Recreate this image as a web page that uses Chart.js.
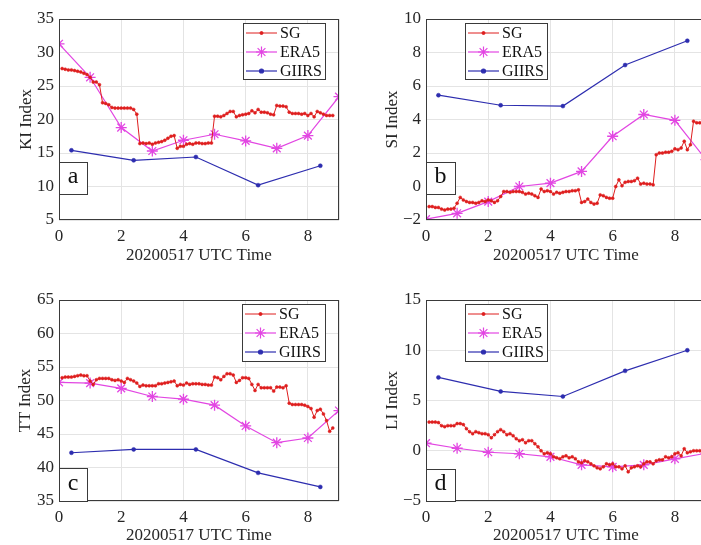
<!doctype html>
<html lang="en">
  <head>
    <meta charset="utf-8">
    <title>SG / ERA5 / GIIRS indices</title>
    <style>
      * { margin: 0; padding: 0; }
      body { width: 701px; height: 545px; overflow: hidden; background: #fff; position: relative; }
      .panel { position: absolute; }
    </style>
  </head>
  <body>
    <div class="panel" style="left:0;top:0;width:350px;height:272px"><canvas id="chartA"></canvas></div>
    <div class="panel" style="left:350px;top:0;width:380px;height:272px"><canvas id="chartB"></canvas></div>
    <div class="panel" style="left:0;top:272px;width:350px;height:273px"><canvas id="chartC"></canvas></div>
    <div class="panel" style="left:350px;top:272px;width:380px;height:273px"><canvas id="chartD"></canvas></div>

    <script src="https://cdn.jsdelivr.net/npm/chart.js/dist/chart.umd.min.js"></script>
    <script>
    // ---- data ----
    const sgTime = [
      0.1, 0.2, 0.3, 0.4, 0.5, 0.6, 0.7, 0.8, 0.9,
      1.0, 1.1, 1.2, 1.3, 1.4, 1.5, 1.6, 1.7, 1.8, 1.9,
      2.0, 2.1, 2.2, 2.3, 2.4, 2.5, 2.6, 2.7, 2.8, 2.9,
      3.0, 3.1, 3.2, 3.3, 3.4, 3.5, 3.6, 3.7, 3.8, 3.9,
      4.0, 4.1, 4.2, 4.3, 4.4, 4.5, 4.6, 4.7, 4.8, 4.9,
      5.0, 5.1, 5.2, 5.3, 5.4, 5.5, 5.6, 5.7, 5.8, 5.9,
      6.0, 6.1, 6.2, 6.3, 6.4, 6.5, 6.6, 6.7, 6.8, 6.9,
      7.0, 7.1, 7.2, 7.3, 7.4, 7.5, 7.6, 7.7, 7.8, 7.9,
      8.0, 8.1, 8.2, 8.3, 8.4, 8.5, 8.6, 8.7, 8.8
    ];
    const era5Time = [0, 1, 2, 3, 4, 5, 6, 7, 8, 9];
    const giirsTime = [0.4, 2.4, 4.4, 6.4, 8.4];

    const kiSG = [
      27.6, 27.5, 27.4, 27.4, 27.3, 27.2, 27.1, 26.9, 26.7,
      26.3, 25.6, 25.6, 25.2, 22.5, 22.4, 22.2, 21.8, 21.7, 21.7,
      21.7, 21.7, 21.7, 21.7, 21.5, 20.8, 16.4, 16.5, 16.4, 16.5,
      16.3, 16.5, 16.6, 16.7, 16.9, 17.2, 17.5, 17.6, 15.7, 16.0,
      16.0, 16.3, 16.4, 16.3, 16.5, 16.5, 16.4, 16.4, 16.5, 16.5,
      20.5, 20.5, 20.4, 20.6, 20.9, 21.2, 21.2, 20.4, 20.6, 20.7,
      20.8, 20.9, 21.3, 21.0, 21.5, 21.1, 21.1, 21.0, 20.8, 20.7,
      22.1, 22.0, 22.0, 21.9, 21.1, 20.9, 20.9, 20.9, 20.8, 20.9,
      20.6, 20.9, 20.4, 21.2, 21.0, 20.8, 20.6, 20.6, 20.6
    ];
    const kiERA5 = [31.3, 26.3, 18.8, 15.3, 16.9, 17.8, 16.8, 15.7, 17.6, 23.4];
    const kiGIIRS = [15.4, 13.9, 14.4, 10.2, 13.1];

    const siSG = [
      -1.2, -1.2, -1.25, -1.25, -1.35, -1.4, -1.35, -1.35, -1.3,
      -1.0, -0.65, -0.8, -0.9, -0.95, -0.95, -1.0, -0.95, -0.85, -0.9,
      -0.8, -0.85, -0.95, -0.85, -0.6, -0.3, -0.3, -0.35, -0.3, -0.3,
      -0.3, -0.35, -0.45, -0.4, -0.45, -0.55, -0.65, -0.15, -0.3, -0.25,
      -0.3, -0.45, -0.35, -0.4, -0.35, -0.3, -0.3, -0.25, -0.25, -0.2,
      -0.95, -0.9, -0.75, -0.95, -1.05, -1.0, -0.5, -0.55, -0.65, -0.7,
      -0.7, 0.0, 0.4, 0.05, 0.25, 0.3, 0.3, 0.35, 0.5, 0.15,
      0.2, 0.15, 0.15, 0.1, 1.9, 2.0, 2.0, 2.05, 2.05, 2.1,
      2.25, 2.2, 2.3, 2.7, 2.2, 2.5, 3.9, 3.8, 3.8
    ];
    const siERA5 = [-1.95, -1.6, -0.9, 0.0, 0.2, 0.9, 3.0, 4.3, 3.95, 1.6];
    const siGIIRS = [5.45, 4.85, 4.8, 7.25, 8.7];

    const ttSG = [
      53.4, 53.5, 53.5, 53.5, 53.6, 53.7, 53.8, 53.7, 53.7,
      52.9, 52.4, 53.1, 53.3, 53.3, 53.3, 53.3, 53.1, 53.0, 53.1,
      52.9, 52.7, 53.3, 53.1, 52.9, 52.6, 52.1, 52.3, 52.2, 52.2,
      52.2, 52.2, 52.5, 52.5, 52.6, 52.7, 52.8, 52.9, 52.2, 52.4,
      52.3, 52.6, 52.4, 52.5, 52.5, 52.5, 52.4, 52.4, 52.3, 52.3,
      53.5, 53.4, 53.1, 53.6, 54.0, 54.0, 53.8, 52.7, 53.0, 53.4,
      53.4, 53.3, 52.4, 51.5, 52.4, 51.9, 51.9, 51.9, 51.9, 51.4,
      52.0, 52.0, 51.9, 52.2, 49.6, 49.4, 49.4, 49.4, 49.4, 49.3,
      49.1, 48.8, 47.5, 48.5, 48.7, 48.0, 47.0, 45.4, 45.9
    ];
    const ttERA5 = [52.7, 52.6, 51.8, 50.6, 50.2, 49.3, 46.2, 43.7, 44.4, 48.5];
    const ttGIIRS = [42.2, 42.7, 42.7, 39.2, 37.1];

    const liSG = [
      2.85, 2.85, 2.85, 2.8, 2.5, 2.4, 2.5, 2.5, 2.5,
      2.7, 2.7, 2.6, 2.2, 1.9, 1.7, 1.9, 1.8, 1.7, 1.7,
      1.6, 1.3, 1.6, 1.9, 2.1, 1.9, 1.6, 1.7, 1.5, 1.2,
      1.0, 1.1, 0.8, 1.0, 1.0, 0.7, 0.4, 0.0, -0.3, -0.2,
      -0.3, -0.6, -0.7, -0.8, -0.6, -0.5, -0.7, -0.6, -0.8, -1.1,
      -1.2, -1.0, -1.1, -1.3, -1.5, -1.7, -1.8, -1.6, -1.3, -1.4,
      -1.3, -1.6, -1.6, -1.8, -1.5, -2.1, -1.7, -1.6, -1.5, -1.6,
      -1.3, -1.1, -1.1, -1.3, -1.0, -0.9, -0.9, -0.6, -0.7, -0.6,
      -0.3, -0.2, -0.5, 0.2, -0.2, -0.1, 0.0, 0.0, 0.0
    ];
    const liERA5 = [0.75, 0.25, -0.15, -0.3, -0.6, -1.4, -1.6, -1.4, -0.8, -0.25];
    const liGIIRS = [7.3, 5.9, 5.4, 7.95, 10.0];

    const seriesNames = ['SG', 'ERA5', 'GIIRS'];
    const xTitle = '20200517 UTC Time';

    // ---- styles ----
    const SERIF = "'Liberation Serif', 'Times New Roman', serif";
    const RED = 'rgb(222, 30, 30)';
    const MAGENTA = 'rgb(226, 70, 226)';
    const BLUE = 'rgb(45, 45, 175)';

    Chart.defaults.font.family = SERIF;
    Chart.defaults.color = '#262626';

    function pairs(xs, ys) {
      return xs.map((x, i) => ({ x: x, y: ys[i] }));
    }

    // box round the plot, legend box and panel letter
    const boxPlugin = {
      id: 'matlabBox',
      afterDatasetsDraw(chart, args, opts) {
        const ctx = chart.ctx;
        const a = chart.chartArea;
        ctx.save();
        ctx.strokeStyle = '#3a3a3a';
        ctx.lineWidth = 1;
        ctx.strokeRect(a.left + 0.5, a.top + 0.5, a.right - a.left - 1, a.bottom - a.top - 1);

        // panel letter
        const L = opts.letter;
        ctx.fillStyle = '#fff';
        ctx.fillRect(L.x, L.y, L.w, L.h);
        ctx.strokeRect(L.x + 0.5, L.y + 0.5, L.w, L.h);
        ctx.fillStyle = '#111';
        ctx.font = '24px ' + SERIF;
        ctx.textAlign = 'center';
        ctx.textBaseline = 'middle';
        ctx.fillText(L.text, L.x + L.w / 2, L.y + L.h / 2 - 1);

        // legend
        const g = opts.legend;
        ctx.fillStyle = '#fff';
        ctx.fillRect(g.x, g.y, g.w, g.h);
        ctx.strokeStyle = '#3a3a3a';
        ctx.strokeRect(g.x + 0.5, g.y + 0.5, g.w, g.h);
        ctx.font = '16px ' + SERIF;
        ctx.textAlign = 'left';
        chart.data.datasets.forEach((ds, i) => {
          const y = g.y + 10 + i * 19;
          ctx.strokeStyle = ds.borderColor;
          ctx.lineWidth = ds.borderWidth;
          ctx.beginPath();
          ctx.moveTo(g.x + 3, y);
          ctx.lineTo(g.x + 34, y);
          ctx.stroke();
          ctx.fillStyle = ds.pointBackgroundColor;
          Chart.helpers.drawPoint(ctx, {
            pointStyle: ds.pointStyle, radius: ds.pointRadius,
            borderWidth: ds.pointBorderWidth, rotation: 0
          }, g.x + 18.5, y);
          ctx.fillStyle = '#111';
          ctx.fillText(ds.label, g.x + 37, y + 1);
        });
        ctx.restore();
      }
    };

    function makeChart(id, p) {
      return new Chart(document.getElementById(id), {
        type: 'line',
        data: {
          datasets: [
            {
              label: seriesNames[0], data: pairs(sgTime, p.sg),
              borderColor: RED, borderWidth: 1, pointStyle: 'circle',
              pointRadius: 1.5, pointBorderWidth: 0.5, pointBackgroundColor: RED, pointBorderColor: RED
            },
            {
              label: seriesNames[1], data: pairs(era5Time, p.era5),
              borderColor: MAGENTA, borderWidth: 1.2, pointStyle: 'star',
              pointRadius: 5.5, pointBorderWidth: 1.3, pointBackgroundColor: MAGENTA, pointBorderColor: MAGENTA
            },
            {
              label: seriesNames[2], data: pairs(giirsTime, p.giirs),
              borderColor: BLUE, borderWidth: 1.2, pointStyle: 'circle',
              pointRadius: 2, pointBorderWidth: 0.5, pointBackgroundColor: BLUE, pointBorderColor: BLUE
            }
          ]
        },
        options: {
          responsive: true,
          maintainAspectRatio: false,
          animation: false,
          layout: { padding: { top: p.padTop, right: p.padRight, left: 0, bottom: 0 } },
          scales: {
            x: {
              type: 'linear', min: 0, max: 9,
              afterFit: s => { s.height = p.xHeight; },
              grid: { color: '#e4e4e4', drawTicks: false },
              border: { display: false },
              ticks: {
                stepSize: 2, autoSkip: false, maxRotation: 0, padding: 6,
                font: { size: 17 },
                callback: v => (v % 2 === 0 ? v : '')
              },
              title: {
                display: true, text: xTitle,
                font: { size: 17, lineHeight: 1 },
                padding: { top: 0, bottom: p.xTitlePad }
              }
            },
            y: {
              min: p.yMin, max: p.yMax,
              afterFit: s => { s.width = p.yWidth; },
              grid: { color: '#e4e4e4', drawTicks: false },
              border: { display: false },
              ticks: {
                stepSize: p.yStep, padding: 5,
                font: { size: 17 },
                callback: v => String(v).replace('-', '\u2212')
              },
              title: {
                display: true, text: p.yTitle,
                font: { size: 17, lineHeight: 1 },
                padding: { top: p.yTitlePad, bottom: 0 }
              }
            }
          },
          plugins: {
            legend: { display: false },
            tooltip: { enabled: false },
            matlabBox: { letter: p.letter, legend: p.legend }
          }
        },
        plugins: [boxPlugin]
      });
    }

    makeChart('chartA', {
      sg: kiSG, era5: kiERA5, giirs: kiGIIRS, yTitle: 'KI Index',
      yMin: 5, yMax: 35, yStep: 5,
      padTop: 19, padRight: 11, yWidth: 59, xHeight: 52, xTitlePad: 8, yTitlePad: 18,
      letter: { text: 'a', x: 59, y: 162, w: 28, h: 32 },
      legend: { x: 243, y: 23, w: 82, h: 56 }
    });
    makeChart('chartB', {
      sg: siSG, era5: siERA5, giirs: siGIIRS, yTitle: 'SI Index',
      yMin: -2, yMax: 10, yStep: 2,
      padTop: 19, padRight: 24, yWidth: 76, xHeight: 52, xTitlePad: 8, yTitlePad: 34,
      letter: { text: 'b', x: 76, y: 162, w: 29, h: 32 },
      legend: { x: 115, y: 23, w: 82, h: 56 }
    });
    makeChart('chartC', {
      sg: ttSG, era5: ttERA5, giirs: ttGIIRS, yTitle: 'TT Index',
      yMin: 35, yMax: 65, yStep: 5,
      padTop: 28, padRight: 11, yWidth: 59, xHeight: 44, xTitlePad: 1, yTitlePad: 17,
      letter: { text: 'c', x: 59, y: 196, w: 28, h: 33 },
      legend: { x: 242, y: 32, w: 83, h: 57 }
    });
    makeChart('chartD', {
      sg: liSG, era5: liERA5, giirs: liGIIRS, yTitle: 'LI Index',
      yMin: -5, yMax: 15, yStep: 5,
      padTop: 28, padRight: 24, yWidth: 76, xHeight: 44, xTitlePad: 1, yTitlePad: 34,
      letter: { text: 'd', x: 76, y: 197, w: 29, h: 32 },
      legend: { x: 115, y: 32, w: 82, h: 57 }
    });
    </script>
  </body>
</html>
